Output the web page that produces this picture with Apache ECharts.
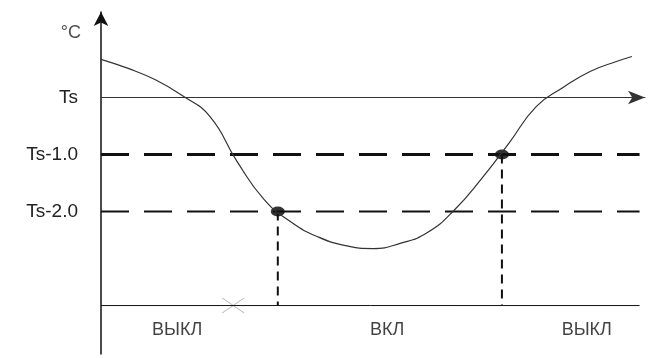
<!DOCTYPE html>
<html>
<head>
<meta charset="utf-8">
<script src="https://cdn.jsdelivr.net/npm/echarts@6/dist/echarts.min.js"></script>
<style>
  html, body { margin: 0; padding: 0; background: #fff; }
  #chart { width: 659px; height: 358px; }
</style>
</head>
<body>
<div id="chart"></div>
<script>
// temperature curve (x: time units, y: degrees relative to Ts)
const curveX = [0, 5, 10, 15, 20, 25, 30, 35, 40, 45, 50, 55, 60, 65, 70, 75, 80, 85, 90, 95, 97.6];
const curveY = [0.67, 0.51, 0.31, 0.03, -0.33, -1.12, -1.79, -2.19, -2.45, -2.6, -2.65, -2.56, -2.37, -1.97, -1.42, -0.8, -0.16, 0.18, 0.46, 0.64, 0.72];

// switching points: on at Ts-2.0, off at Ts-1.0
const switchX = [32.5, 73.7];
const switchY = [-2, -1];

// y tick labels
const tickValues = [0, -1, -2];
const tickLabels = ['Ts', 'Ts-1.0', 'Ts-2.0'];

// bottom state labels
const stateLabels = ['ВЫКЛ', 'ВКЛ', 'ВЫКЛ'];
const stateX = [14, 52.6, 89.3];
const stateY = -4.08;

const baseY = -3.65;
const lineEndX = 99;
const crossX = 24.3;
const unitLabel = '°C';
const unitY = 1.13;

const font = 'Liberation Sans, Arial, sans-serif';
const chart = echarts.init(document.getElementById('chart'));

const hLine = (y, type, width) => ({
  type: 'line',
  data: [[0, y], [lineEndX, y]],
  symbol: 'none',
  silent: true,
  lineStyle: { color: '#111', width: width, type: type }
});

const vLine = (x, y) => ({
  type: 'line',
  data: [[x, y], [x, baseY]],
  symbol: 'none',
  silent: true,
  lineStyle: { color: '#111', width: 2, type: [9, 6] }
});

chart.setOption({
  animation: false,
  grid: { left: 101, right: 14, top: 12, bottom: 4 },
  xAxis: {
    type: 'value', min: 0, max: 100,
    axisLabel: { show: false }, axisTick: { show: false }, splitLine: { show: false },
    axisLine: {
      show: true, onZero: true,
      symbol: ['none', 'arrow'], symbolSize: [10, 17],
      lineStyle: { color: '#333', width: 1 }
    }
  },
  yAxis: {
    type: 'value', min: -4.5, max: 1.5, interval: 0.5,
    splitLine: { show: false }, axisTick: { show: false },
    axisLine: {
      show: true,
      symbol: ['none', 'arrow'], symbolSize: [11, 14],
      lineStyle: { color: '#111', width: 1.5 }
    },
    axisLabel: {
      margin: 23, fontSize: 19, color: '#222', fontFamily: font,
      formatter: v => {
        const i = tickValues.indexOf(v);
        return i >= 0 ? tickLabels[i] : '';
      }
    }
  },
  series: [
    hLine(-1, [28, 15], 3),
    hLine(-2, [28, 15], 2),
    hLine(baseY, 'solid', 1),
    vLine(switchX[0], switchY[0]),
    vLine(switchX[1], switchY[1]),
    {
      type: 'line',
      data: curveX.map((x, i) => [x, curveY[i]]),
      smooth: 0.5,
      symbol: 'none',
      lineStyle: { color: '#333', width: 1.2 }
    },
    {
      type: 'scatter',
      data: switchX.map((x, i) => [x, switchY[i]]),
      symbol: 'circle', symbolSize: [14, 10],
      itemStyle: { color: '#000' }
    },
    {
      type: 'scatter',
      data: [[crossX, baseY]],
      symbol: 'path://M0 0L22 15M22 0L0 15',
      symbolSize: [22, 15],
      itemStyle: { color: 'none', borderColor: '#aaa', borderWidth: 1 }
    },
    {
      type: 'scatter',
      data: stateX.map((x, i) => ({ value: [x, stateY], name: stateLabels[i] })),
      symbolSize: 0,
      label: {
        show: true, position: 'inside', formatter: '{b}',
        fontSize: 18, color: '#111', fontFamily: font
      }
    },
    {
      type: 'scatter',
      data: [{ value: [0, unitY], name: unitLabel }],
      symbolSize: 0,
      label: {
        show: true, position: 'left', distance: 20, formatter: '{b}',
        fontSize: 18, color: '#222', fontFamily: font
      }
    }
  ]
});
</script>
</body>
</html>
